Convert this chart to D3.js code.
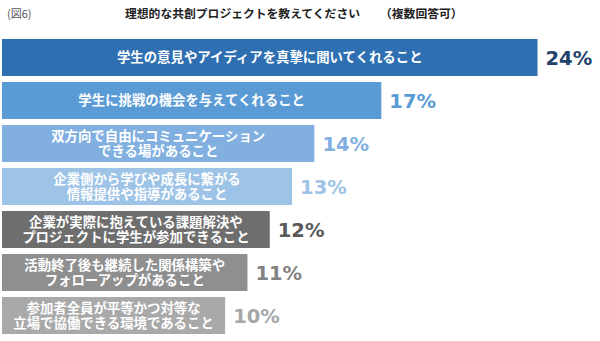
<!DOCTYPE html>
<html lang="ja">
<head>
<meta charset="utf-8">
<script src="https://cdn.jsdelivr.net/npm/d3@7"></script>
<style>
  html, body { margin: 0; padding: 0; background: #ffffff; }
  svg { display: block; }
</style>
</head>
<body>
<div id="chart"></div>
<script>
// 回答項目（改行は "\n" で表す）
const categories = [
  "学生の意見やアイディアを真摯に聞いてくれること",
  "学生に挑戦の機会を与えてくれること",
  "双方向で自由にコミュニケーション\nできる場があること",
  "企業側から学びや成長に繋がる\n情報提供や指導があること",
  "企業が実際に抱えている課題解決や\nプロジェクトに学生が参加できること",
  "活動終了後も継続した関係構築や\nフォローアップがあること",
  "参加者全員が平等かつ対等な\n立場で協働できる環境であること"
];
// 回答割合（%）
const values = [24, 17, 14, 13, 12, 11, 10];
const valueLabels = ["24%", "17%", "14%", "13%", "12%", "11%", "10%"];

const barColors = ["#2e6fb2", "#5b9bd5", "#80afe0", "#9dc3e6", "#6e6e6e", "#8f8f8f", "#a9a9a9"];
const labelColors = ["#22426b", "#5b9bd5", "#80afe0", "#9dc3e6", "#595959", "#828282", "#a6a6a6"];

const width = 600, height = 341;
const svg = d3.select("#chart").append("svg")
  .attr("width", width).attr("height", height);

const jp = "'Noto Sans CJK JP', 'Noto Sans', sans-serif";

// 図番号と設問タイトル
svg.append("text")
  .attr("x", 7).attr("y", 18)
  .attr("font-family", jp).attr("font-size", 11)
  .attr("fill", "#555555")
  .text("(図6)");

svg.append("text")
  .attr("x", 125).attr("y", 18)
  .attr("font-family", jp).attr("font-size", 11.8).attr("font-weight", "bold")
  .attr("fill", "#222222")
  .text("理想的な共創プロジェクトを教えてください");

svg.append("text")
  .attr("x", 380).attr("y", 18)
  .attr("font-family", jp).attr("font-size", 11.8).attr("font-weight", "bold")
  .attr("fill", "#222222")
  .text("（複数回答可）");

const x = d3.scaleLinear().domain([0, 24]).range([2, 537.5]);
const y = d3.scaleBand().domain(categories).range([39, 334]).paddingInner(0.14).paddingOuter(0);

const rows = svg.append("g").selectAll("g")
  .data(categories.map((c, i) => ({ c, v: values[i], lab: valueLabels[i], i })))
  .join("g");

rows.append("rect")
  .attr("x", x(0))
  .attr("y", d => y(d.c))
  .attr("width", d => x(d.v) - x(0))
  .attr("height", y.bandwidth())
  .attr("fill", d => barColors[d.i]);

// バー内の項目名（白・中央揃え）
rows.each(function(d) {
  const lines = d.c.split("\n");
  const cx = (x(0) + x(d.v)) / 2;
  const cy = y(d.c) + y.bandwidth() / 2;
  const lh = 15;
  const t = d3.select(this).append("text")
    .attr("font-family", jp)
    .attr("font-size", 13.4)
    .attr("font-weight", "bold")
    .attr("fill", "#ffffff")
    .attr("text-anchor", "middle");
  lines.forEach((ln, k) => {
    t.append("tspan")
      .attr("x", cx)
      .attr("y", cy + (k - (lines.length - 1) / 2) * lh)
      .attr("dy", "0.36em")
      .text(ln);
  });
});

// 割合ラベル
rows.append("text")
  .attr("x", d => x(d.v) + 8)
  .attr("y", d => y(d.c) + y.bandwidth() / 2)
  .attr("dy", "0.36em")
  .attr("font-family", "'DejaVu Sans', Verdana, sans-serif")
  .attr("font-size", 19.5)
  .attr("font-weight", "bold")
  .attr("fill", d => labelColors[d.i])
  .text(d => d.lab);
</script>
</body>
</html>
